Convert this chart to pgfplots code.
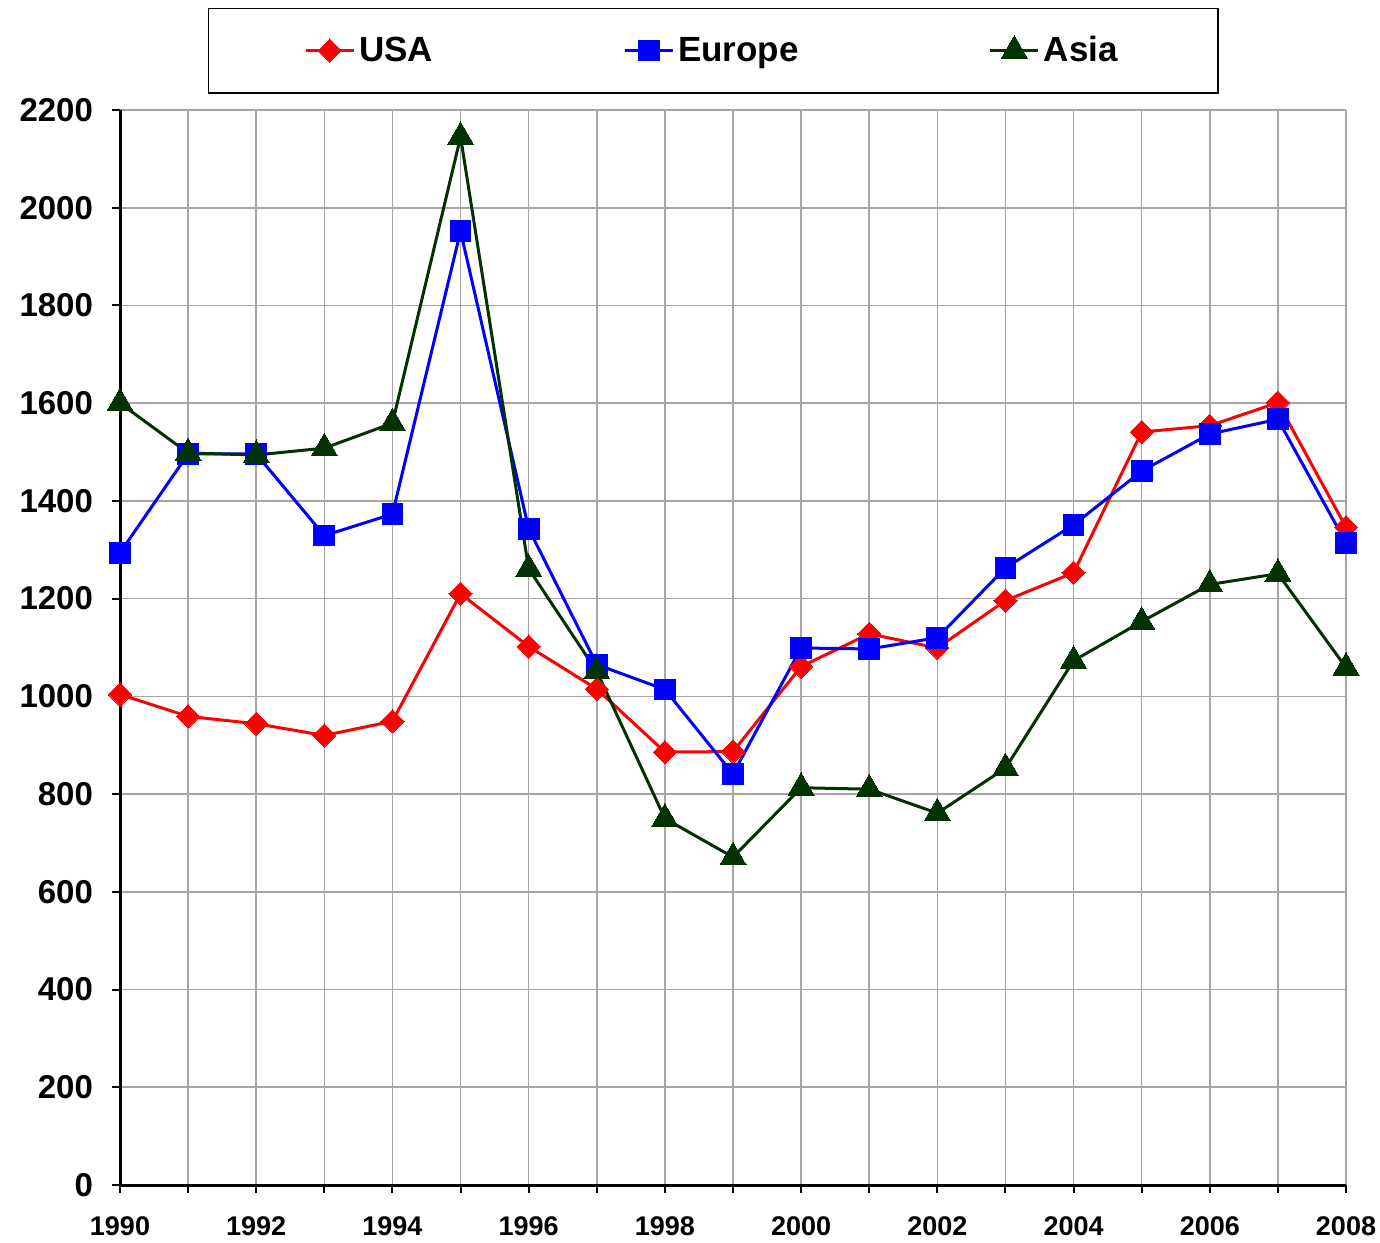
\documentclass[border=0pt]{standalone}
\usepackage{fontspec}
\setmainfont{Liberation Sans}
\usepackage{pgfplots}
\pgfplotsset{compat=1.18}
\definecolor{usared}{RGB}{255,0,0}
\definecolor{eublue}{RGB}{0,0,255}
\definecolor{asiagreen}{RGB}{0,51,0}

\begin{document}
\begin{tikzpicture}
\useasboundingbox (0,0) rectangle (690pt,621pt);
\begin{axis}[
  at={(60pt,28.5pt)}, anchor=south west,
  width=613pt, height=537.5pt, scale only axis,
  xmin=1990, xmax=2008, ymin=0, ymax=2200,
  axis lines*=left,
  axis line style={line width=1.5pt},
  xtick={1990,1992,...,2008},
  minor xtick={1991,1993,...,2007},
  ytick={0,200,...,2200},
  grid=both,
  major grid style={gray!70, line width=0.8pt},
  minor grid style={gray!70, line width=0.8pt},
  tick align=outside,
  major tick length=4pt, minor tick length=4pt,
  tick style={black, line width=1pt},
  /pgf/number format/1000 sep={},
  /pgf/number format/assume math mode=true,
  yticklabel style={font=\bfseries\fontsize{16.5}{18}\selectfont, xshift=-6pt},
  xticklabel style={font=\bfseries\fontsize{13.5}{15}\selectfont, yshift=-8.5pt},
  clip=false,
  legend columns=3,
  legend style={at={(0.4837,1.0553)}, anchor=center, draw=black, line width=0.8pt,
    font=\bfseries\fontsize{17.5}{20}\selectfont,
    inner xsep=48pt, inner ysep=12pt,
    nodes={inner xsep=2pt, inner ysep=2pt},
    /tikz/every even column/.append style={column sep=93pt}},
  legend image code/.code={\draw[mark repeat=2,mark phase=2] plot coordinates {(0pt,0pt)(12pt,0pt)(24pt,0pt)};},
]
\addplot[usared, line width=1.5pt, mark=square*, mark size=4.1pt, mark options={rotate=45, fill=usared, draw=usared, line width=0pt}] coordinates {
(1990,1004)(1991,959)(1992,944)(1993,920)(1994,949)(1995,1210)(1996,1102)
(1997,1015)(1998,886)(1999,887)(2000,1061)(2001,1128)(2002,1099)(2003,1196)
(2004,1253)(2005,1541)(2006,1554)(2007,1601)(2008,1346)};
\addlegendentry{USA}
\addplot[eublue, line width=1.5pt, mark=square*, mark size=5.2pt, mark options={fill=eublue, draw=eublue, line width=0pt}] coordinates {
(1990,1294)(1991,1496)(1992,1496)(1993,1329)(1994,1373)(1995,1952)(1996,1343)
(1997,1065)(1998,1014)(1999,841)(2000,1099)(2001,1097)(2002,1120)(2003,1263)
(2004,1351)(2005,1461)(2006,1537)(2007,1567)(2008,1314)};
\addlegendentry{Europe}
\addplot[asiagreen, line width=1.5pt, mark=triangle*, mark size=7.5pt, mark options={fill=asiagreen, draw=asiagreen, line width=0pt}] coordinates {
(1990,1600)(1991,1498)(1992,1494)(1993,1508)(1994,1559)(1995,2145)(1996,1261)
(1997,1051)(1998,750)(1999,671)(2000,813)(2001,810)(2002,761)(2003,853)
(2004,1073)(2005,1153)(2006,1229)(2007,1251)(2008,1059)};
\addlegendentry{Asia}
\end{axis}
\end{tikzpicture}
\end{document}
